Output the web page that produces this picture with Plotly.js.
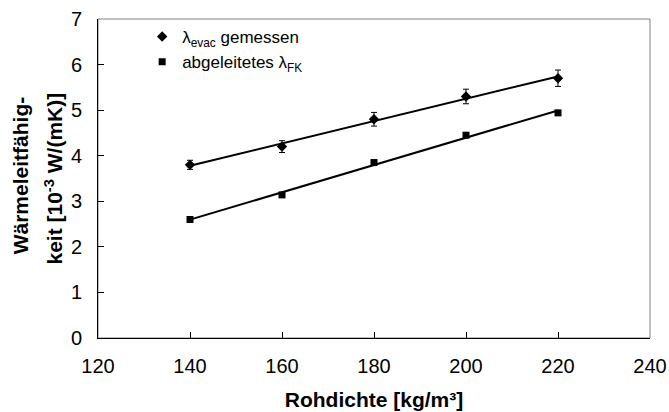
<!DOCTYPE html>
<html>
<head>
<meta charset="utf-8">
<script src="https://cdn.plot.ly/plotly-3.0.1.min.js"></script>
<style>html,body{margin:0;padding:0;background:#fff;}#chart{width:669px;height:412px;}</style>
</head>
<body>
<div id="chart"></div>
<script>
// Data
const rohdichte = [140, 160, 180, 200, 220];
const lambdaEvac = [3.80, 4.20, 4.80, 5.30, 5.70];
const lambdaEvacErr = [0.10, 0.13, 0.15, 0.16, 0.18];
const lambdaFK = [2.60, 3.14, 3.85, 4.45, 4.94];
const xTicks = [120, 140, 160, 180, 200, 220, 240];
const yTicks = [0, 1, 2, 3, 4, 5, 6, 7];
const yTitleLines = ['Wärmeleitfähig-', 'keit [10<sup>-3</sup> W/(mK)]'];
const xTitle = 'Rohdichte [kg/m³]';

// linear trend line (least squares) through a series, evaluated at the data x values
function trend(xs, ys) {
  const n = xs.length;
  const mx = xs.reduce((a, b) => a + b, 0) / n;
  const my = ys.reduce((a, b) => a + b, 0) / n;
  let sxy = 0, sxx = 0;
  for (let i = 0; i < n; i++) { sxy += (xs[i] - mx) * (ys[i] - my); sxx += (xs[i] - mx) ** 2; }
  const m = sxy / sxx, b = my - m * mx;
  return xs.map(x => m * x + b);
}

const FONT = 'Arial, "Liberation Sans", sans-serif';

const traces = [
  { x: rohdichte, y: trend(rohdichte, lambdaEvac), mode: 'lines', line: {color: '#000', width: 2}, showlegend: false, hoverinfo: 'skip' },
  { x: rohdichte, y: trend(rohdichte, lambdaFK), mode: 'lines', line: {color: '#000', width: 2}, showlegend: false, hoverinfo: 'skip' },
  { x: rohdichte, y: lambdaEvac, mode: 'markers', name: 'λ<sub>evac</sub> gemessen',
    marker: {symbol: 'diamond', size: 8, color: '#000'},
    error_y: {type: 'data', array: lambdaEvacErr, visible: true, color: '#000', thickness: 1, width: 3} },
  { x: rohdichte, y: lambdaFK, mode: 'markers', name: 'abgeleitetes λ<sub>FK</sub>',
    marker: {symbol: 'square', size: 7, color: '#000'} }
];

const layout = {
  width: 669, height: 412,
  margin: {l: 98, r: 19, t: 19, b: 74},
  paper_bgcolor: '#fff', plot_bgcolor: '#fff',
  font: {family: FONT, color: '#000', size: 20},
  showlegend: true,
  legend: {x: 0.08, y: 1.0, xanchor: 'left', yanchor: 'top', bgcolor: 'rgba(0,0,0,0)',
           font: {family: FONT, size: 17, color: '#000'}, itemwidth: 30, tracegroupgap: 0},
  xaxis: {
    range: [120, 240], tickvals: xTicks, ticktext: xTicks.map(String),
    ticks: 'inside', ticklen: 6, tickcolor: '#000', tickwidth: 1, ticklabelstandoff: 10,
    showline: true, linecolor: '#000', linewidth: 1, showgrid: false, zeroline: false,
    tickfont: {family: FONT, size: 20, color: '#000'},
    title: {text: '<b>' + xTitle + '</b>', font: {family: FONT, size: 21, color: '#000'}, standoff: 16}
  },
  yaxis: {
    range: [0, 7], tickvals: yTicks, ticktext: yTicks.map(String),
    ticks: 'inside', ticklen: 6, tickcolor: '#000', tickwidth: 1, ticklabelstandoff: 11,
    showline: true, linecolor: '#000', linewidth: 1, showgrid: false, zeroline: false,
    tickfont: {family: FONT, size: 20, color: '#000'}
  },
  annotations: [
    {text: '<b>' + yTitleLines[0] + '</b>', xref: 'paper', yref: 'paper', x: 0, y: 0.51, xshift: -78,
     xanchor: 'center', yanchor: 'middle', textangle: -90, showarrow: false,
     font: {family: FONT, size: 21, color: '#000'}},
    {text: '<b>' + yTitleLines[1] + '</b>', xref: 'paper', yref: 'paper', x: 0, y: 0.5, xshift: -45,
     xanchor: 'center', yanchor: 'middle', textangle: -90, showarrow: false,
     font: {family: FONT, size: 21, color: '#000'}}
  ],
  shapes: [
    {type: 'rect', xref: 'paper', yref: 'paper', x0: 0, x1: 1, y0: 0, y1: 1, line: {color: '#808080', width: 1}, layer: 'below'}
  ]
};

Plotly.newPlot('chart', traces, layout, {displayModeBar: false, staticPlot: true});
</script>
</body>
</html>
